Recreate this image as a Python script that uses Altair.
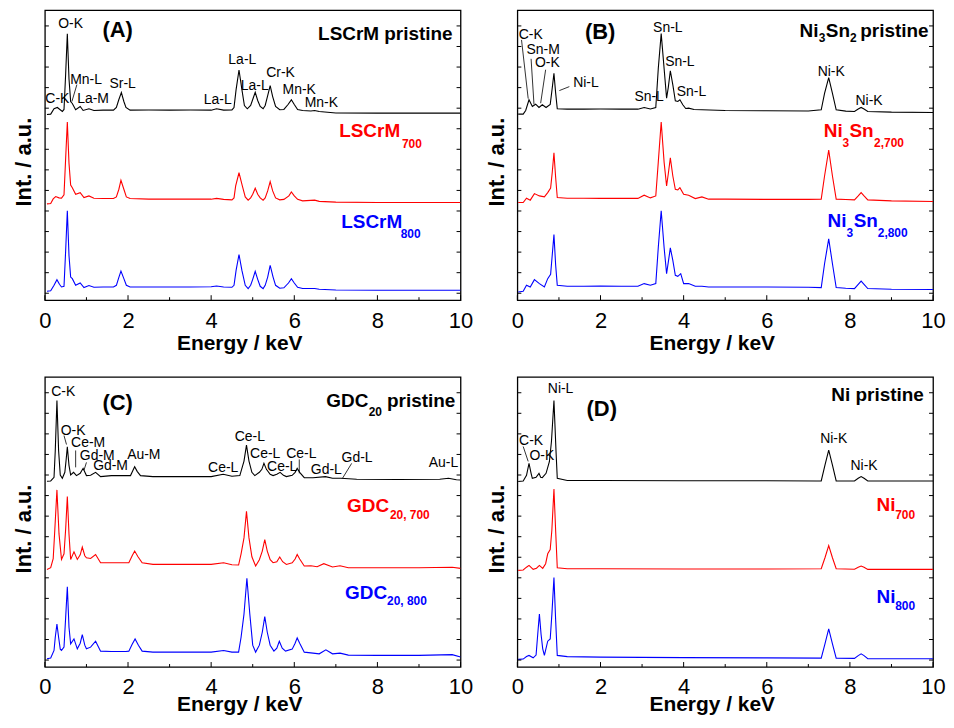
import altair as alt
import pandas as pd

# ---------------- spectra (energy keV, intensity a.u. above own baseline) ----------------
A_PRISTINE = [(0.05,-1),(0.14,-0.7),(0.22,4.7),(0.30,6),(0.42,2),(0.46,4),(0.50,40),(0.54,80.3),(0.58,35),(0.62,12),
              (0.66,10),(0.74,3.7),(0.85,7),(0.92,3),(1.06,4.7),(1.18,3),(1.4,3.3),(1.65,3.3),(1.72,6),(1.78,14),
              (1.84,21),(1.90,12),(1.95,6),(2.05,3.3),(2.5,3.5),(3.0,3.3),(3.5,3.5),(4.0,3.3),(4.13,4.7),(4.3,3.3),
              (4.5,3.5),(4.55,6),(4.60,24),(4.67,43.7),(4.74,24),(4.80,8),(4.87,4.7),(4.95,8),(5.0,14),(5.06,21.3),
              (5.12,13),(5.18,7),(5.25,4.7),(5.30,8),(5.36,18),(5.42,28),(5.48,17),(5.55,7),(5.65,3.7),(5.75,4),
              (5.85,9),(5.93,13.7),(6.0,9),(6.08,4),(6.2,3),(6.4,2.5),(6.49,3),(6.6,2),(7.0,0.5),(8.0,0.3),(9.0,0.3),(10.0,0.3)]
A_700 = [(0.05,-1),(0.14,-0.7),(0.20,4),(0.26,6.3),(0.34,5),(0.40,4.7),(0.46,8),(0.50,45),(0.54,81.3),(0.58,40),
         (0.62,18),(0.66,15.3),(0.74,8.7),(0.85,10.3),(0.94,5.3),(1.06,7),(1.18,4.7),(1.4,4.3),(1.65,4.3),(1.72,6),
         (1.78,13.7),(1.83,22.7),(1.90,13.7),(1.96,6),(2.05,4.3),(2.5,3.7),(3.0,3.7),(3.5,3.7),(4.0,3.7),(4.13,4.5),
         (4.3,3.5),(4.5,3),(4.55,5),(4.59,17),(4.67,30.3),(4.75,17),(4.82,6),(4.89,2.7),(4.95,5),(5.0,8.7),(5.06,14.7),
         (5.12,8.7),(5.18,5),(5.25,2.7),(5.30,5),(5.36,12),(5.42,21.3),(5.48,12),(5.55,5),(5.65,3),(5.75,3.5),(5.87,7),
         (5.93,11),(6.0,7),(6.08,3.5),(6.2,2),(6.49,2.7),(6.6,1.5),(7.0,0.7),(8.0,0.3),(9.0,0.3),(10.0,0.3)]
A_800 = [(0.05,-1),(0.14,-0.5),(0.22,5),(0.29,10.7),(0.35,6),(0.40,3.3),(0.46,4),(0.50,40),(0.54,80),(0.58,35),
         (0.62,13.3),(0.66,11.7),(0.74,5),(0.85,7.3),(0.94,2.7),(1.06,4.7),(1.18,3),(1.4,3.3),(1.65,3.3),(1.72,5),
         (1.77,11.7),(1.83,19.3),(1.90,11.7),(1.96,5),(2.05,3.3),(2.5,3.3),(3.0,3.3),(3.5,3.3),(4.0,3.5),(4.13,4.3),
         (4.3,3.3),(4.5,3),(4.55,5),(4.60,20),(4.67,36),(4.74,20),(4.82,5),(4.89,1.7),(4.95,5),(5.0,11),(5.06,19),
         (5.12,11),(5.18,4),(5.25,1.7),(5.30,5),(5.36,13.3),(5.42,25),(5.49,13.3),(5.55,5),(5.65,2),(5.75,2.5),
         (5.86,7.3),(5.93,11.7),(6.0,7.3),(6.08,3),(6.2,1.7),(6.49,1.7),(6.6,1),(7.0,0.3),(8.0,0),(9.0,0),(10.0,0)]
A_OFFSETS = [188, 98, 10]

B_PRISTINE = [(0.02,-1.7),(0.14,-1.7),(0.20,2),(0.28,12.7),(0.36,6),(0.44,8.3),(0.52,5),(0.60,7.7),(0.69,5),(0.79,8),
              (0.84,25),(0.88,39.3),(0.92,20),(0.96,3.7),(1.2,3.3),(1.6,3.3),(2.0,3.5),(2.5,3.3),(2.9,3.3),(3.05,5),
              (3.2,3.5),(3.33,5),(3.39,44.3),(3.46,79.3),(3.53,44.3),(3.59,14.3),(3.63,25),(3.68,42),(3.74,27.7),
              (3.80,11.7),(3.86,11),(3.91,12.7),(3.98,7.7),(4.05,4),(4.12,4.3),(4.25,3),(4.44,2.7),(5.0,2),(6.0,1.7),
              (7.0,1.5),(7.31,2.7),(7.39,19.3),(7.49,35),(7.58,19.3),(7.67,2.7),(7.9,1.3),(8.11,1),(8.20,3.5),(8.27,5),
              (8.34,3.5),(8.43,1),(9.0,0.3),(10.0,0)]
B_700 = [(0.02,-0.7),(0.14,-0.7),(0.22,3.7),(0.31,1.7),(0.41,8.3),(0.53,6),(0.65,5),(0.73,9.3),(0.80,14),(0.84,30),
         (0.88,49.3),(0.92,25),(0.96,4.3),(1.2,3.7),(1.6,3.7),(2.0,3.5),(2.5,3.5),(2.9,3.5),(3.05,6.7),(3.2,4),(3.33,6),
         (3.39,40),(3.46,80.3),(3.53,40),(3.59,16),(3.63,28),(3.68,44.3),(3.74,26),(3.80,12.7),(3.86,12),(3.91,14.3),
         (4.0,7.7),(4.12,6.7),(4.28,3.3),(4.44,5),(4.6,2.7),(5.0,2.7),(6.0,2.5),(7.0,2.5),(7.31,2.7),(7.39,26),
         (7.49,52),(7.58,26),(7.67,2.7),(7.9,2.3),(8.11,2),(8.20,6),(8.27,9.3),(8.34,6),(8.43,2),(9.0,1),(10.0,0.3)]
B_800 = [(0.02,-2.7),(0.14,-2),(0.22,4),(0.31,2.3),(0.41,9.7),(0.53,5.7),(0.65,2.3),(0.73,10.7),(0.80,15),(0.84,35),
         (0.88,55),(0.92,25),(0.96,4),(1.2,3),(1.6,3),(2.0,3.3),(2.5,3),(2.9,3),(3.05,5.7),(3.2,4),(3.33,5.7),(3.39,42),
         (3.46,79),(3.53,42),(3.59,15.7),(3.63,27),(3.68,41.7),(3.74,29),(3.80,14),(3.86,13),(3.93,15.7),(4.0,5.7),
         (4.12,5.7),(4.28,3),(4.44,3),(4.6,2.3),(5.0,2.3),(6.0,2.3),(7.0,2),(7.31,1.7),(7.39,25.7),(7.49,50.7),
         (7.58,25.7),(7.67,1.7),(7.9,1),(8.11,0.7),(8.20,5),(8.27,8.3),(8.34,5),(8.43,0.7),(9.0,0),(10.0,-0.3)]
B_OFFSETS = [189, 99, 11]

C_PRISTINE = [(0.05,-1),(0.14,-0.7),(0.22,3),(0.25,30),(0.29,80.3),(0.33,30),(0.37,5.3),(0.42,2),(0.48,8),(0.51,20),
              (0.54,33.7),(0.58,15),(0.62,5.3),(0.69,8),(0.76,4.7),(0.85,7),(0.92,12),(1.0,4.7),(1.1,5),(1.22,8),
              (1.34,3.7),(1.6,4.7),(2.0,4.7),(2.06,4.7),(2.12,10),(2.16,13.7),(2.22,9),(2.30,4.7),(2.6,3.7),(3.0,3.7),
              (3.5,3.7),(4.0,3.7),(4.29,6),(4.5,4),(4.69,4.7),(4.79,19.3),(4.85,35.3),(4.91,19.3),(4.98,8),(5.05,4.7),
              (5.16,8),(5.22,11),(5.27,17),(5.33,11),(5.42,6),(5.49,4.7),(5.58,6),(5.66,8),(5.74,5),(5.81,3.7),(5.95,5),
              (6.02,8),(6.07,12),(6.13,8),(6.24,2.7),(6.45,2.5),(6.75,3.7),(6.92,2),(7.12,2),(7.5,1),(8.5,0.7),(9.5,1),
              (9.71,2),(9.9,0.5),(10.0,0.3)]
C_700 = [(0.05,-0.7),(0.14,1),(0.20,10),(0.24,40),(0.29,79.3),(0.34,35),(0.40,9.3),(0.46,15),(0.50,40),(0.54,72.7),
         (0.58,35),(0.62,9.3),(0.70,17),(0.78,9.3),(0.85,14),(0.90,21.7),(0.96,13),(1.0,11),(1.1,10.3),(1.22,14.3),
         (1.34,6),(1.6,6),(1.95,6),(2.02,6),(2.10,13),(2.16,17.7),(2.24,12),(2.34,6),(2.6,4.3),(3.0,4.3),(3.5,4.3),
         (4.0,4.3),(4.3,6),(4.5,4),(4.66,3.7),(4.72,15),(4.79,31),(4.85,57.7),(4.91,31),(4.98,12),(5.07,2.7),(5.16,9),
         (5.23,17.7),(5.29,29.3),(5.35,17.7),(5.42,9),(5.49,6),(5.58,7),(5.65,11.7),(5.72,7),(5.81,4.3),(5.95,6),
         (6.02,9.7),(6.07,14.3),(6.13,9.7),(6.24,2.7),(6.4,3),(6.55,2),(6.71,5),(6.92,1.7),(7.1,3),(7.3,1),(8.0,1),
         (9.0,1),(9.8,1.5),(10.0,0.3)]
C_800 = [(0.05,-1.7),(0.14,-1),(0.22,6.7),(0.25,20),(0.29,33.3),(0.33,20),(0.37,8),(0.40,6.7),(0.46,10),(0.50,40),
         (0.54,70.7),(0.58,30),(0.62,13.3),(0.70,18.3),(0.78,8.3),(0.85,14),(0.90,22.7),(0.96,12),(1.0,8.3),(1.1,10),
         (1.22,16),(1.34,6),(1.6,5.7),(1.95,5.7),(2.02,6),(2.10,13),(2.17,18.3),(2.25,12),(2.34,6),(2.6,5),(3.0,5),
         (3.5,5),(4.0,5),(4.3,6.7),(4.5,5),(4.66,5),(4.72,20),(4.79,43.3),(4.86,79.3),(4.93,43.3),(5.0,12),(5.07,5),
         (5.16,12),(5.23,25),(5.29,40.7),(5.35,25),(5.42,12),(5.51,6),(5.58,9),(5.64,16),(5.71,9),(5.79,6),(5.95,8),
         (6.02,14),(6.07,19.3),(6.13,14),(6.24,5),(6.45,4),(6.6,3.3),(6.76,7.3),(6.92,3.3),(7.1,4),(7.3,2),(8.0,1.7),
         (9.0,1.7),(9.8,2.5),(10.0,0)]
C_OFFSETS = [188, 99, 10]

D_PRISTINE = [(0.02,-0.3),(0.14,0.3),(0.22,6),(0.28,18),(0.33,8),(0.36,3),(0.45,4),(0.52,8),(0.56,4),(0.60,3.7),
              (0.69,8),(0.77,19.7),(0.82,40),(0.88,81.3),(0.93,30),(0.96,3),(1.2,0.7),(2.0,0.7),(4.0,0.5),(6.0,0.5),
              (7.2,0.3),(7.31,0.3),(7.40,16.3),(7.49,31.3),(7.58,16.3),(7.67,0.3),(8.11,0.3),(8.20,3),(8.27,4.7),
              (8.34,3),(8.43,0.3),(9.0,0.3),(10.0,0.3)]
D_700 = [(0.02,-0.7),(0.14,-0.3),(0.22,2.5),(0.28,4.3),(0.38,0.3),(0.46,1.5),(0.53,4.3),(0.61,1.3),(0.68,6),(0.73,16),
         (0.79,20.3),(0.83,40),(0.88,81.3),(0.92,40),(0.96,2),(1.2,1),(2.0,1),(4.0,0.7),(6.0,0.7),(7.31,1),(7.40,12),
         (7.49,24.3),(7.58,12),(7.67,1),(8.11,0.5),(8.20,2.5),(8.27,3.7),(8.34,2.5),(8.43,0.3),(9.0,0.3),(10.0,0.3)]
D_800 = [(0.02,-0.3),(0.14,0),(0.22,2.5),(0.28,3.7),(0.38,1.3),(0.45,4),(0.49,25),(0.53,45.3),(0.57,25),(0.61,10.3),
         (0.65,3.7),(0.73,18),(0.79,20.3),(0.83,45),(0.88,82),(0.92,40),(0.96,3.7),(1.2,2.5),(2.0,2),(4.0,1.5),(6.0,1.2),
         (7.31,1),(7.40,15.3),(7.49,30.3),(7.58,15.3),(7.67,1),(8.11,0.7),(8.20,3.5),(8.27,5.3),(8.34,3.5),(8.43,0.5),
         (9.0,0.3),(10.0,0.3)]
D_OFFSETS = [187, 98, 8]

SERIES = ["pristine", "700", "800"]
SERIES_COLORS = ["black", "#ff0000", "#0000ff"]

# ---------------- annotations: (text, energy, intensity) ----------------
A_PEAKS = [("O-K",0.62,278),("Mn-L",0.99,222),("C-K",0.30,203),("La-M",1.16,203),("Sr-L",1.87,218),
           ("La-L",4.16,202),("La-L",4.75,242),("La-L",5.05,216),("Cr-K",5.67,229),("Mn-K",6.12,212),("Mn-K",6.65,198)]
A_LEADERS = [(0.77,217,0.65,200)]
A_TAG = ("(A)", 1.75, 272)
A_TITLE = ("LSCrM pristine", 9.81, 268)
A_NAMES = [("LSCrM",7.08,170,"main","700"),("700",8.59,157,"sub","700"),
           ("LSCrM",7.13,78.5,"main","800"),("800",8.56,67,"sub","800")]

B_PEAKS = [("C-K",0.32,266.5),("Sn-M",0.62,252.3),("O-K",0.72,238.3),("Ni-L",1.65,219),("Sn-L",3.62,274.3),
           ("Sn-L",3.91,240),("Sn-L",4.19,210),("Sn-L",3.17,204.3),("Ni-K",7.55,229.3),("Ni-K",8.46,201)]
B_LEADERS = [(0.10,262,0.26,203),(0.33,243,0.40,197),(0.68,232,0.56,198.3),(1.25,215,1.01,211)]
B_TAG = ("(B)", 1.99, 270)
B_TITLE = None
B_NAMES = [("Ni",6.79,271,"main","pristine"),("3",7.25,264,"sub","pristine"),("Sn",7.42,271,"main","pristine"),
           ("2",8.0,264,"sub","pristine"),("pristine",8.25,271,"main","pristine"),
           ("Ni",7.37,170,"main","700"),("3",7.82,158,"sub","700"),("Sn",7.99,170,"main","700"),("2,700",8.58,158,"sub","700"),
           ("Ni",7.46,80,"main","800"),("3",7.92,68,"sub","800"),("Sn",8.09,80,"main","800"),("2,800",8.67,68,"sub","800")]

C_PEAKS = [("C-K",0.44,277),("O-K",0.68,238),("Ce-M",1.04,226),("Gd-M",1.26,212),("Gd-M",1.58,202),("Au-M",2.38,213),
           ("Ce-L",4.29,200),("Ce-L",4.93,232),("Ce-L",5.30,214),("Ce-L",5.71,201),("Ce-L",6.17,214),
           ("Gd-L",6.77,198),("Gd-L",7.51,210),("Au-L",9.59,205)]
C_LEADERS = [(0.46,233,0.52,224),(0.74,218,0.74,201),(1.0,206,0.94,198),(6.12,209,6.12,195),(7.38,205,7.16,190)]
C_TAG = ("(C)", 1.75, 266)
C_TITLE = None
C_NAMES = [("GDC",6.77,268,"main","pristine"),("20",7.79,257,"sub","pristine"),("pristine",8.23,268,"main","pristine"),
           ("GDC",7.27,162,"main","700"),("20, 700",8.30,153,"sub","700"),
           ("GDC",7.22,75,"main","800"),("20, 800",8.23,66,"sub","800")]

D_PEAKS = [("Ni-L",1.04,280),("C-K",0.33,228),("O-K",0.59,212),("Ni-K",7.61,230),("Ni-K",8.34,202)]
D_LEADERS = [(0.14,222,0.26,207)]
D_TAG = ("(D)", 2.03, 260)
D_TITLE = ("Ni pristine", 9.78, 274)
D_NAMES = [("Ni",8.64,163,"main","700"),("700",9.09,153,"sub","700"),
           ("Ni",8.64,70,"main","800"),("800",9.09,61,"sub","800")]

X_MAJOR = [0, 2, 4, 6, 8, 10]
X_MINOR = [1, 3, 5, 7, 9]
Y_TICKS = [7 + 20.7 * k for k in range(14)]
Y_MAX = 292

W, H = 417, 291
FONT = "Liberation Sans"


def panel(traces, offsets, peaks, leaders, tag, title, names, x_title_y):
    rows = []
    for name, pts, off, col in zip(SERIES, traces, offsets, SERIES_COLORS):
        for i, (e, v) in enumerate(pts):
            rows.append({"E": e, "I": v + off, "series": name, "col": col, "i": i})
    df = pd.DataFrame(rows)

    x_axis = alt.Axis(values=X_MAJOR, ticks=False, tickSize=0, domain=False, grid=False, labelFontSize=22,
                      labelPadding=10, labelFlush=False, labelOverlap=False, labelColor="black",
                      title="Energy / keV", titleFontSize=21, titleFontWeight="bold", titlePadding=0,
                      titleColor="black", titleX=195, titleY=x_title_y, titleBaseline="top")
    y_axis = alt.Axis(labels=False, ticks=False, tickSize=0, domain=False, grid=False,
                      title="Int. / a.u.", titleFontSize=22, titleFontWeight="bold", titlePadding=9,
                      titleColor="black", titleY=152)
    x = alt.X("E:Q", scale=alt.Scale(domain=[0, 10], nice=False, zero=False), axis=x_axis)
    y = alt.Y("I:Q", scale=alt.Scale(domain=[0, Y_MAX], nice=False, zero=False), axis=y_axis)

    lines = alt.Chart(df).mark_line(strokeWidth=1.1, clip=True).encode(
        x=x, y=y, color=alt.Color("col:N", scale=None), detail="series:N", order="i:Q")

    layers = [lines]

    ytk = pd.DataFrame({"I": Y_TICKS})
    layers.append(alt.Chart(ytk).mark_rule(color="black", strokeWidth=1).encode(
        y=y, x=alt.value(0), x2=alt.value(4)))
    layers.append(alt.Chart(ytk).mark_rule(color="black", strokeWidth=1).encode(
        y=y, x=alt.value(W), x2=alt.value(W - 4)))
    layers.append(alt.Chart(pd.DataFrame({"E": X_MAJOR})).mark_rule(color="black", strokeWidth=1).encode(
        x=x, y=alt.value(H), y2=alt.value(H - 5)))
    layers.append(alt.Chart(pd.DataFrame({"E": X_MINOR})).mark_rule(color="black", strokeWidth=1).encode(
        x=x, y=alt.value(H), y2=alt.value(H - 3)))

    pk = pd.DataFrame(peaks, columns=["t", "E", "I"])
    layers.append(alt.Chart(pk).mark_text(fontSize=14, font=FONT, align="center", baseline="middle",
                                          color="black").encode(x=x, y=y, text="t:N"))

    if leaders:
        ld = pd.DataFrame(leaders, columns=["E", "I", "E2", "I2"])
        layers.append(alt.Chart(ld).mark_rule(color="black", strokeWidth=0.8).encode(
            x=x, y=y, x2="E2:Q", y2="I2:Q"))

    tg = pd.DataFrame([tag], columns=["t", "E", "I"])
    layers.append(alt.Chart(tg).mark_text(fontSize=22, fontWeight="bold", font=FONT, align="center",
                                          baseline="middle", color="black").encode(x=x, y=y, text="t:N"))
    if title:
        tt = pd.DataFrame([title], columns=["t", "E", "I"])
        layers.append(alt.Chart(tt).mark_text(fontSize=19, fontWeight="bold", font=FONT, align="right",
                                              baseline="middle", color="black").encode(x=x, y=y, text="t:N"))

    nm = pd.DataFrame(names, columns=["t", "E", "I", "kind", "series"])
    cmap = dict(zip(SERIES, SERIES_COLORS))
    nm["col"] = nm["series"].map(cmap)
    main = nm[nm["kind"] == "main"]
    sub = nm[nm["kind"] == "sub"]
    layers.append(alt.Chart(main).mark_text(fontSize=19, fontWeight="bold", font=FONT, align="left",
                                            baseline="middle").encode(
        x=x, y=y, text="t:N", color=alt.Color("col:N", scale=None)))
    layers.append(alt.Chart(sub).mark_text(fontSize=12, fontWeight="bold", font=FONT, align="left",
                                           baseline="middle").encode(
        x=x, y=y, text="t:N", color=alt.Color("col:N", scale=None)))

    return alt.layer(*layers).properties(width=W, height=H)


pA = panel([A_PRISTINE, A_700, A_800], A_OFFSETS, A_PEAKS, A_LEADERS, A_TAG, A_TITLE, A_NAMES, 32.5)
pB = panel([B_PRISTINE, B_700, B_800], B_OFFSETS, B_PEAKS, B_LEADERS, B_TAG, B_TITLE, B_NAMES, 32.5)
pC = panel([C_PRISTINE, C_700, C_800], C_OFFSETS, C_PEAKS, C_LEADERS, C_TAG, C_TITLE, C_NAMES, 27)
pD = panel([D_PRISTINE, D_700, D_800], D_OFFSETS, D_PEAKS, D_LEADERS, D_TAG, D_TITLE, D_NAMES, 27)

chart = alt.concat(pA, pB, pC, pD, columns=2, spacing={"row": 77, "column": 57}, bounds="flush").properties(
    padding={"left": 4, "top": 0, "right": 0, "bottom": 0}
).configure(font=FONT).configure_view(stroke="black", strokeWidth=1.3)

chart.save("out.html", embed_options={"renderer": "svg", "actions": False})
